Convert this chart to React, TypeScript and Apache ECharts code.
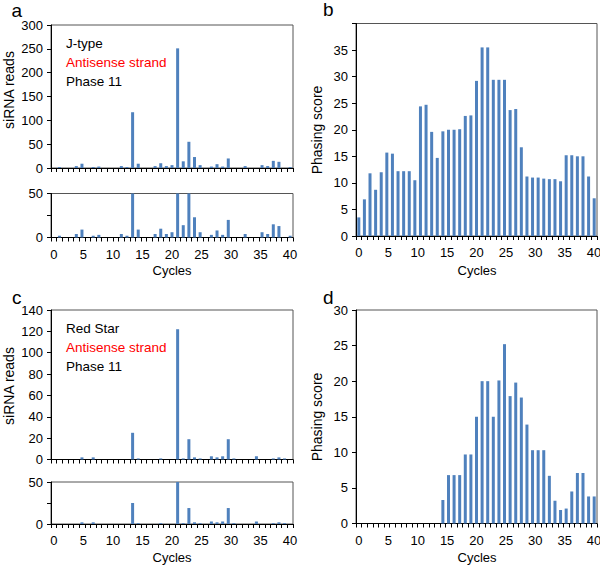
import React, { useEffect, useRef } from "react";
import * as echarts from "echarts";

// 43 bins along the cycle axis (bars are drawn on these)
const bins = [
  "0", "1", "2", "3", "4", "5", "6", "7", "8", "9", "10", "11", "12", "13", "14",
  "15", "16", "17", "18", "19", "20", "21", "22", "23", "24", "25", "26", "27", "28",
  "29", "30", "31", "32", "33", "34", "35", "36", "37", "38", "39", "40", "41", "42",
];

// tick labels of the "Cycles" axis
const cycleLabels = [
  "0", "1", "2", "3", "4", "5", "6", "7", "8", "9", "10", "11", "12", "13", "14",
  "15", "16", "17", "18", "19", "20", "21", "22", "23", "24", "25", "26", "27", "28",
  "29", "30", "31", "32", "33", "34", "35", "36", "37", "38", "39", "40",
];

// panel a: J-type, antisense strand, phase 11 siRNA reads
const jTypeReads = [
  0, 2, 0, 0, 4, 9, 0, 2, 3, 0, 0, 0, 4, 2, 117, 9, 0, 0, 4, 10, 4, 6, 251, 14, 55,
  23, 6, 0, 3, 8, 3, 20, 0, 0, 4, 0, 0, 6, 4, 15, 13, 0, 2,
];

// panel b: J-type phasing score
const jTypeScore = [
  3.5, 6.9, 11.8, 8.7, 12.0, 15.7, 15.5, 12.2, 12.2, 12.2, 10.5, 24.4, 24.7, 19.6,
  14.7, 19.7, 20.0, 20.0, 20.1, 22.6, 22.7, 29.2, 35.5, 35.5, 29.4, 29.4, 29.4, 23.7,
  23.9, 16.7, 11.2, 11.0, 11.0, 10.8, 10.7, 10.7, 10.3, 15.2, 15.2, 15.0, 15.0, 11.2, 7.1,
];

// panel c: Red Star, antisense strand, phase 11 siRNA reads
const redStarReads = [
  0, 0, 0, 0, 0, 2, 0, 2, 0, 0, 0, 0, 0, 0, 25, 1, 0, 0, 0, 1, 0, 0, 122, 1, 19, 2,
  1, 0, 3, 2, 3, 19, 1, 0, 0, 0, 3, 0, 0, 1, 2, 1, 0,
];

// panel d: Red Star phasing score
const redStarScore = [
  0, 0, 0, 0, 0, 0, 0, 0, 0, 0, 0, 0, 0, 0, 0, 3.3, 6.8, 6.8, 6.8, 9.7, 9.7, 15.0,
  20.0, 20.0, 15.0, 20.1, 25.2, 17.9, 19.8, 17.7, 13.9, 10.3, 10.3, 10.3, 6.7, 3.2,
  1.9, 2.1, 4.5, 7.1, 7.1, 3.8, 3.8,
];

const FONT = "'Liberation Sans', Arial, Helvetica, sans-serif";
const BAR = "#4F81BD";
const INK = "#000";

const grids = [
  { left: 51, top: 25, width: 242, height: 143 }, // a top
  { left: 51, top: 193.5, width: 242, height: 44 }, // a bottom
  { left: 356, top: 23.5, width: 241, height: 212.5 }, // b
  { left: 51, top: 310, width: 242, height: 149.5 }, // c top
  { left: 51, top: 482, width: 242, height: 42 }, // c bottom
  { left: 356, top: 310, width: 241, height: 213.5 }, // d
];

function binAxis(gridIndex: number) {
  return {
    type: "category",
    gridIndex,
    data: bins,
    boundaryGap: true,
    axisLine: { show: true, lineStyle: { color: INK, width: 1 } },
    axisTick: { show: true, interval: 0, length: 4, inside: false, lineStyle: { color: INK } },
    axisLabel: { show: false },
    splitLine: { show: false },
  };
}

function labelAxis(gridIndex: number) {
  return {
    type: "category",
    gridIndex,
    position: "bottom",
    data: cycleLabels,
    boundaryGap: true,
    axisLine: { show: false },
    axisTick: { show: false },
    axisLabel: { show: true, interval: 4, margin: 10, fontSize: 13, color: INK, fontFamily: FONT },
    splitLine: { show: false },
  };
}

function valueAxis(gridIndex: number, max: number, interval: number, hide?: number[]) {
  return {
    type: "value",
    gridIndex,
    min: 0,
    max,
    interval,
    axisLine: { show: true, lineStyle: { color: INK, width: 1 } },
    axisTick: { show: true, length: 4, lineStyle: { color: INK } },
    axisLabel: {
      show: true,
      margin: 8,
      fontSize: 13,
      color: INK,
      fontFamily: FONT,
      formatter: (v: number) => (hide && hide.indexOf(v) >= 0 ? "" : String(v)),
    },
    splitLine: { show: false },
  };
}

function barSeries(xAxisIndex: number, yAxisIndex: number, data: number[]) {
  return {
    type: "bar",
    xAxisIndex,
    yAxisIndex,
    data,
    barWidth: 3,
    clip: true,
    itemStyle: { color: BAR },
    silent: true,
  };
}

function txt(x: number, y: number, text: string, size: number, color = INK, align = "left", rotation = 0) {
  return {
    type: "text",
    x,
    y,
    rotation,
    style: {
      text,
      fill: color,
      font: `${size}px ${FONT}`,
      align,
      verticalAlign: "middle",
    },
    silent: true,
  };
}

export default function App() {
  const ref = useRef<HTMLDivElement>(null);

  useEffect(() => {
    if (!ref.current) return;
    const chart = echarts.init(ref.current, undefined, { renderer: "svg" });

    const option = {
      animation: false,
      backgroundColor: "#fff",
      textStyle: { fontFamily: FONT },
      grid: grids.map((g) => ({
        ...g,
        show: true,
        borderColor: "#555",
        borderWidth: 1,
        backgroundColor: "transparent",
        containLabel: false,
        outerBoundsMode: "none",
      })),
      xAxis: [
        binAxis(0), // 0 a top
        binAxis(1), // 1 a bottom
        binAxis(2), // 2 b
        binAxis(3), // 3 c top
        binAxis(4), // 4 c bottom
        binAxis(5), // 5 d
        labelAxis(1), // 6
        labelAxis(2), // 7
        labelAxis(4), // 8
        labelAxis(5), // 9
      ],
      yAxis: [
        valueAxis(0, 300, 50),
        valueAxis(1, 50, 25, [25]),
        valueAxis(2, 40, 5, [40]),
        valueAxis(3, 140, 20),
        valueAxis(4, 50, 25, [25]),
        valueAxis(5, 30, 5),
      ],
      series: [
        barSeries(0, 0, jTypeReads),
        barSeries(1, 1, jTypeReads),
        barSeries(2, 2, jTypeScore),
        barSeries(3, 3, redStarReads),
        barSeries(4, 4, redStarReads),
        barSeries(5, 5, redStarScore),
      ],
      graphic: [
        txt(11.5, 10, "a", 19),
        txt(323, 9.5, "b", 19),
        txt(12, 297.5, "c", 19),
        txt(323, 297.5, "d", 19),
        txt(66, 43.5, "J-type", 13.5),
        txt(66, 62, "Antisense strand", 13.5, "#ff0000"),
        txt(66, 81, "Phase 11", 13.5),
        txt(66, 328.5, "Red Star", 13.5),
        txt(66, 347, "Antisense strand", 13.5, "#ff0000"),
        txt(66, 366, "Phase 11", 13.5),
        txt(8.5, 90, "siRNA reads", 14, INK, "center", Math.PI / 2),
        txt(8.5, 386, "siRNA reads", 14, INK, "center", Math.PI / 2),
        txt(317, 130, "Phasing score", 14, INK, "center", Math.PI / 2),
        txt(317, 417, "Phasing score", 14, INK, "center", Math.PI / 2),
        txt(172, 270, "Cycles", 13, INK, "center"),
        txt(477, 270.5, "Cycles", 13, INK, "center"),
        txt(172, 557.8, "Cycles", 13, INK, "center"),
        txt(477, 557.8, "Cycles", 13, INK, "center"),
      ],
    };

    chart.setOption(option as any);
    return () => chart.dispose();
  }, []);

  return (
    <div
      ref={ref}
      style={{ position: "fixed", left: 0, top: 0, width: 600, height: 566, background: "#fff" }}
    />
  );
}
